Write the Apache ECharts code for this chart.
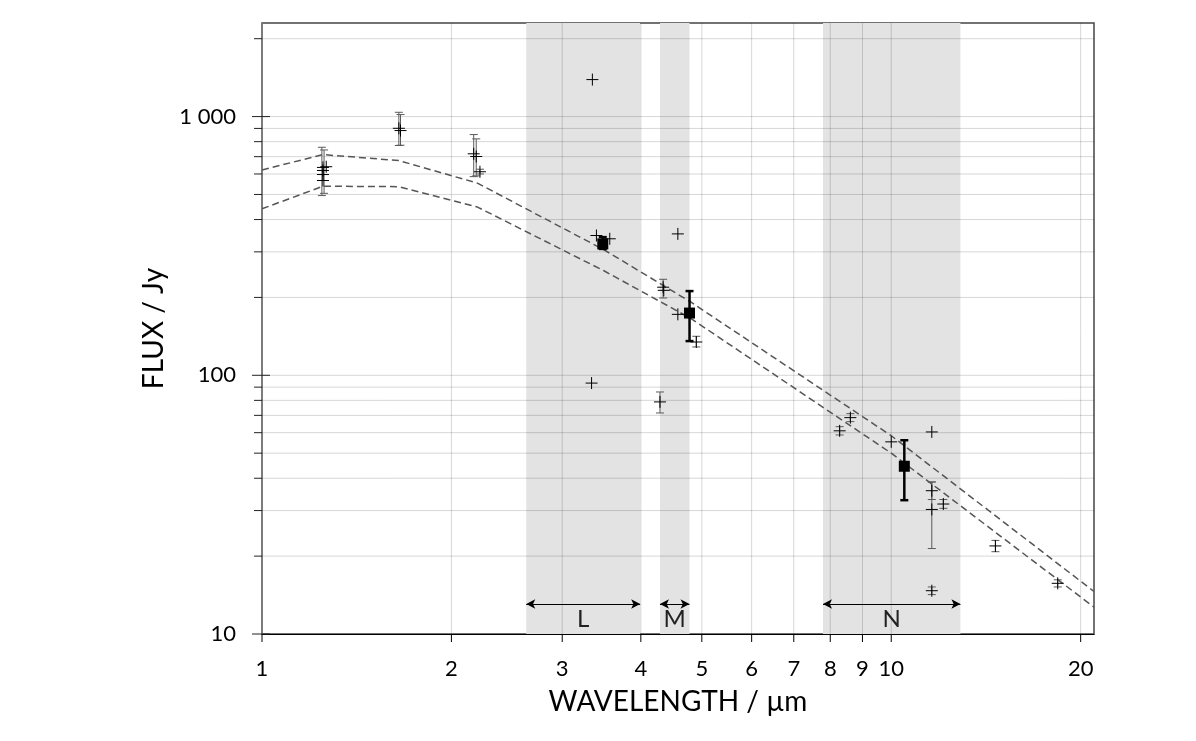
<!DOCTYPE html>
<html>
<head>
<meta charset="utf-8">
<title>Flux / wavelength</title>
<script src="https://cdn.jsdelivr.net/npm/echarts@6/dist/echarts.min.js"></script>
<style>html,body{margin:0;padding:0;background:#fff}</style>
</head>
<body>
<div id="main" style="width:1196px;height:741px"></div>
<script>
// axis extents
var xMin = 1, xMax = 21;
var yMin = 10, yMax = 2300;

// tick / grid values
var xTickValues = [1, 2, 3, 4, 5, 6, 7, 8, 9, 10, 20];
var yMajorValues = [10, 100, 1000];
var yMinorValues = [20, 30, 40, 50, 60, 70, 80, 90, 200, 300, 400, 500, 600, 700, 800, 900, 2000];

// bands (µm)
var bandNames = ['L', 'M', 'N'];
var bandFrom = [2.63, 4.29, 7.79];
var bandTo = [3.99, 4.78, 12.88];
var bandArrowFlux = 13.06;

// model curves
var modelWl = [1, 1.25, 1.65, 2.2, 3.5, 4.8, 10, 21];
var modelUpper = [622, 713, 676, 553, 305, 192, 58.4, 14.6];
var modelLower = [440, 538, 536, 447, 253, 166, 50, 12.7];

// single measurements
var measWl = [1.25, 1.25, 1.25, 1.25, 1.265, 1.65, 1.66, 2.17, 2.19, 2.22,
              3.35, 3.40, 3.57, 3.34, 4.58, 4.34, 4.35, 4.58, 4.90, 4.29,
              8.28, 8.61, 10.0, 11.6, 11.6, 11.6, 12.1, 11.6, 14.64, 18.39];
var measFlux = [636, 619, 597, 566, 640, 901, 883, 718, 701, 612,
                1390, 347, 337, 93.3, 352, 219, 213, 172, 134.5, 78.9,
                61, 68.6, 55.3, 60.4, 35.8, 30.3, 31.8, 14.7, 21.9, 15.7];

// error bars of the single measurements
var errWl = [1.245, 1.255, 1.65, 1.66, 2.17, 2.19, 2.22, 4.34, 4.90, 4.29,
             8.28, 8.61, 11.6, 11.6, 12.1, 11.6, 14.64, 18.39];
var errLow = [495, 505, 773, 775, 586, 590, 600, 199, 128.7, 71.5,
              58.8, 66.2, 33.1, 21.4, 30.6, 14.2, 20.8, 15.2];
var errHigh = [761, 743, 1039, 1018, 852, 820, 626, 235, 141.5, 86.2,
               63.3, 71.1, 38.7, 38.7, 33.1, 15.2, 23.0, 16.2];

// averaged values per band
var meanWl = [3.48, 4.78, 10.49];
var meanFlux = [322, 174, 44.5];
var meanLow = [308, 135.6, 32.9];
var meanHigh = [342, 211.6, 56.1];

var font = 'Lato';
var textColor = '#000';
var gridColor = 'rgba(0,0,0,0.16)';

function zip() {
    var arrs = arguments, out = [];
    for (var i = 0; i < arrs[0].length; i++) {
        var row = [];
        for (var j = 0; j < arrs.length; j++) row.push(arrs[j][i]);
        out.push(row);
    }
    return out;
}

function renderXTick(params, api) {
    var v = api.value(0);
    var b = api.coord([v, yMin]);
    var t = api.coord([v, yMax]);
    var ch = [];
    if (v !== xMin) {
        ch.push({type: 'line', shape: {x1: b[0], y1: b[1], x2: t[0], y2: t[1]},
                 style: {stroke: gridColor, lineWidth: 1}});
    }
    ch.push({type: 'line', shape: {x1: b[0], y1: b[1], x2: b[0], y2: b[1] + 8},
             style: {stroke: '#000', lineWidth: 1}});
    ch.push({type: 'text', style: {text: String(v), x: b[0], y: b[1] + 35,
             align: 'center', verticalAlign: 'middle', font: '22px ' + font, fill: textColor}});
    return {type: 'group', children: ch};
}

function renderYTick(params, api) {
    var v = api.value(1);
    var major = api.value(2);
    var l = api.coord([xMin, v]);
    var r = api.coord([xMax, v]);
    var ch = [];
    if (v !== yMin) {
        ch.push({type: 'line', shape: {x1: l[0], y1: l[1], x2: r[0], y2: r[1]},
                 style: {stroke: gridColor, lineWidth: 1}});
    }
    ch.push({type: 'line', shape: {x1: l[0] - (major ? 10 : 8), y1: l[1], x2: l[0] + (major ? 8 : 0), y2: l[1]},
             style: {stroke: '#222', lineWidth: 1}});
    return {type: 'group', children: ch};
}

function makeErrRenderer(color, width, cap) {
    return function (params, api) {
        var x = api.value(0);
        var lo = api.coord([x, api.value(1)]);
        var hi = api.coord([x, api.value(2)]);
        var st = {stroke: color, lineWidth: width};
        return {type: 'group', children: [
            {type: 'line', shape: {x1: lo[0], y1: lo[1], x2: hi[0], y2: hi[1]}, style: st},
            {type: 'line', shape: {x1: lo[0] - cap, y1: lo[1], x2: lo[0] + cap, y2: lo[1]}, style: st},
            {type: 'line', shape: {x1: hi[0] - cap, y1: hi[1], x2: hi[0] + cap, y2: hi[1]}, style: st}
        ]};
    };
}

var yTickData = yMajorValues.map(function (v) { return [xMin, v, 1]; })
    .concat(yMinorValues.map(function (v) { return [xMin, v, 0]; }));

var bandAreas = bandNames.map(function (n, i) {
    return [{xAxis: bandFrom[i]}, {xAxis: bandTo[i]}];
});
var bandArrows = bandNames.map(function (n, i) {
    return [{name: n, coord: [bandFrom[i], bandArrowFlux]}, {coord: [bandTo[i], bandArrowFlux]}];
});

var myChart = echarts.init(document.getElementById('main'));
var option = {
    animation: false,
    grid: {left: 262, right: 102, top: 23, bottom: 107, show: true,
           borderColor: '#444', borderWidth: 1.5, backgroundColor: 'transparent'},
    xAxis: {
        type: 'log', min: xMin, max: xMax, logBase: 10,
        name: 'WAVELENGTH / µm', nameLocation: 'middle', nameGap: 54,
        nameTextStyle: {fontFamily: font, fontSize: 28, color: textColor},
        axisLine: {lineStyle: {color: '#000', width: 1}},
        axisTick: {show: false},
        axisLabel: {show: false},
        splitLine: {show: false}
    },
    yAxis: {
        type: 'log', min: yMin, max: yMax, logBase: 10,
        name: 'FLUX / Jy', nameLocation: 'middle', nameGap: 92,
        nameTextStyle: {fontFamily: font, fontSize: 28, color: textColor},
        axisLine: {lineStyle: {color: '#808080', width: 1.5}},
        axisTick: {show: false},
        axisLabel: {
            margin: 26, fontFamily: font, fontSize: 22, color: textColor,
            showMaxLabel: false,
            formatter: function (v) { return v >= 1000 ? '1 000' : String(v); }
        },
        splitLine: {show: false}
    },
    series: [
        {
            name: 'bands', type: 'scatter', data: [], z: 1, silent: true,
            markArea: {silent: true, itemStyle: {color: '#e3e3e3'}, data: bandAreas}
        },
        {
            name: 'xgrid', type: 'custom', z: 2, silent: true,
            renderItem: renderXTick, encode: {x: 0, y: 1},
            data: xTickValues.map(function (v) { return [v, yMin]; })
        },
        {
            name: 'ygrid', type: 'custom', z: 2, silent: true,
            renderItem: renderYTick, encode: {x: 0, y: 1},
            data: yTickData
        },
        {
            name: 'model upper', type: 'line', z: 3, symbol: 'none', silent: true,
            lineStyle: {color: '#555', width: 1.5, type: [7, 4]},
            data: zip(modelWl, modelUpper)
        },
        {
            name: 'model lower', type: 'line', z: 3, symbol: 'none', silent: true,
            lineStyle: {color: '#555', width: 1.5, type: [7, 4]},
            data: zip(modelWl, modelLower)
        },
        {
            name: 'errors', type: 'custom', z: 4, silent: true,
            renderItem: makeErrRenderer('#5a5a5a', 1, 4), encode: {x: 0, y: [1, 2]},
            data: zip(errWl, errLow, errHigh)
        },
        {
            name: 'measurements', type: 'scatter', z: 5, silent: true,
            symbol: 'path://M6,0L6,12M0,6L12,6', symbolSize: 12,
            itemStyle: {color: 'none', borderColor: '#000', borderWidth: 1, opacity: 1},
            data: zip(measWl, measFlux)
        },
        {
            name: 'mean errors', type: 'custom', z: 6, silent: true,
            renderItem: makeErrRenderer('#000', 2.5, 4), encode: {x: 0, y: [1, 2]},
            data: zip(meanWl, meanLow, meanHigh)
        },
        {
            name: 'means', type: 'scatter', z: 7, silent: true,
            symbol: 'rect', symbolSize: 11, itemStyle: {color: '#000', opacity: 1},
            data: zip(meanWl, meanFlux)
        },
        {
            name: 'band arrows', type: 'scatter', data: [], z: 8, silent: true,
            markLine: {
                silent: true, symbol: ['arrow', 'arrow'], symbolSize: [7, 9],
                lineStyle: {color: '#000', width: 1, type: 'solid'},
                label: {show: true, formatter: '{b}', position: 'insideMiddleBottom', distance: 3,
                        fontFamily: font, fontSize: 24, color: '#222'},
                data: bandArrows
            }
        }
    ]
};
myChart.setOption(option);
</script>
</body>
</html>
